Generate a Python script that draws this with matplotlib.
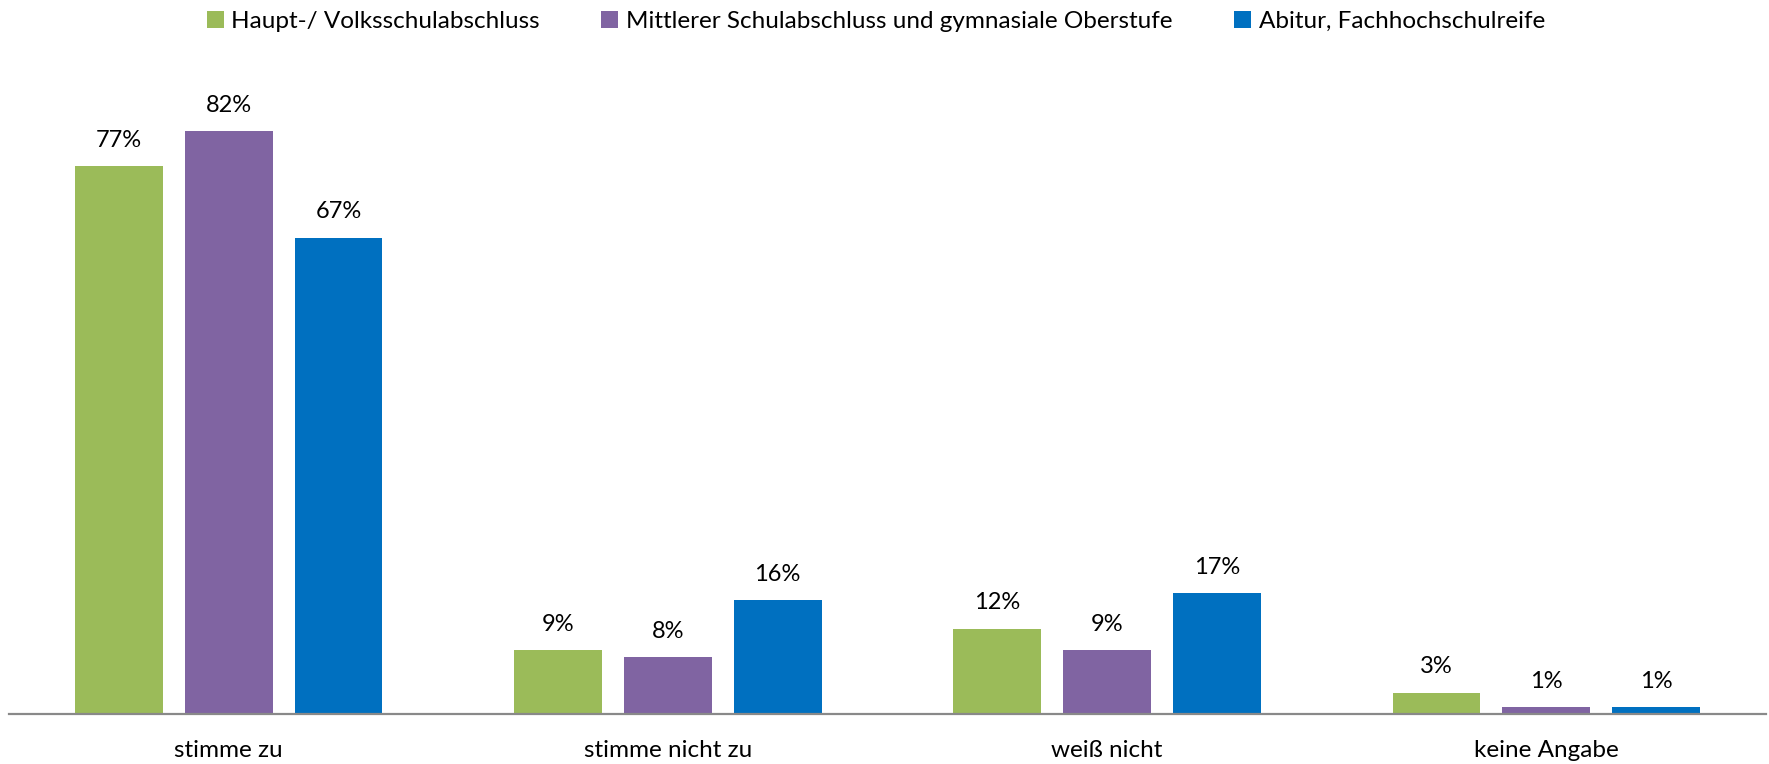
import matplotlib
matplotlib.use("Agg")
import matplotlib.pyplot as plt
import numpy as np
from matplotlib.patches import Patch

categories = ["stimme zu", "stimme nicht zu", "weiß nicht", "keine Angabe"]
series_names = ["Haupt-/ Volksschulabschluss",
                "Mittlerer Schulabschluss und gymnasiale Oberstufe",
                "Abitur, Fachhochschulreife"]
haupt = [77, 9, 12, 3]
mittel = [82, 8, 9, 1]
abitur = [67, 16, 17, 1]
colors = ["#9BBB59", "#8064A2", "#0070C0"]

plt.rcParams["font.family"] = ["Lato", "DejaVu Sans"]

fig = plt.figure(figsize=(17.69, 7.64), dpi=100)
ax = fig.add_axes([0.0051, 0.0654, 0.9932, 0.8526])

x = np.arange(len(categories))
width = 0.2
step = 0.25
for i, (vals, col) in enumerate(zip([haupt, mittel, abitur], colors)):
    pos = x + (i - 1) * step
    bars = ax.bar(pos, vals, width=width, color=col, zorder=2)
    for b, v in zip(bars, vals):
        ax.annotate(f"{v}%", (b.get_x() + b.get_width() / 2, v),
                    xytext=(0, 11), textcoords="offset points",
                    ha="center", va="bottom", fontsize=17, color="black")

ax.set_xlim(-0.5, len(categories) - 0.5)
ax.set_ylim(0, 91.6)
ax.set_xticks(x)
ax.set_xticklabels(categories, fontsize=17.5)
ax.tick_params(axis="x", length=0, pad=19)
ax.set_yticks([])
for s in ["top", "right", "left"]:
    ax.spines[s].set_visible(False)
ax.spines["bottom"].set_color("#898989")
ax.spines["bottom"].set_linewidth(1.6)

handles = [Patch(facecolor=c, edgecolor="none") for c in colors]
fig.legend(handles, series_names, loc="center", bbox_to_anchor=(0.495, 0.972),
           ncol=3, frameon=False, fontsize=17.5, handlelength=0.7, handleheight=0.7,
           handletextpad=0.3, columnspacing=2.55)

fig.savefig("out.png", dpi=100, facecolor="white")
